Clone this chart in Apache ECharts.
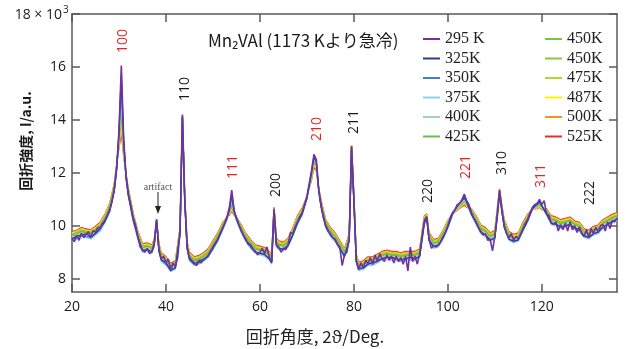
<!DOCTYPE html>
<html><head><meta charset="utf-8">
<script src="https://cdn.jsdelivr.net/npm/echarts@6/dist/echarts.min.js"></script>
<style>html,body{margin:0;padding:0;background:#fff}#c{width:625px;height:349px}</style>
</head><body><div id="c"></div><script>
// x grid of the 295 K trace: 20.0 .. 136.0 every 0.5 deg
const fineAngles = [];
for (let i = 0; i < 233; i++) fineAngles.push(20 + i * 0.5);
// x grid of the other traces
const coarseAngles = [
 20,21,22,23,24,25,26,27,28,29,29.5,30,30.5,31,31.5,32,
 33,34,35,36,37,37.5,38,38.5,39,40,41,42,43,43.5,44,44.5,45,
 46,47,48,49,50,51,52,53,53.5,54,54.5,55,56,57,58,59,60,61,62,62.5,63,63.5,64,
 65,66,67,68,69,70,71,71.5,72,72.5,73,74,75,76,77,78,79,79.5,80,80.5,81,
 82,83,84,85,86,87,88,89,90,91,92,93,94,95,95.5,96,97,98,99,100,101,102,103,103.5,104,
 105,106,107,108,109,110,111,111.5,112,113,114,115,116,117,118,119,119.5,120,
 121,122,123,124,125,126,127,128,129,130,131,132,133,134,135,136];

const i295 = [
 9.5,9.4,9.62,9.45,9.72,9.55,9.68,9.78,9.55,9.82,
 9.75,9.95,9.9,10.1,10.2,10.4,10.6,10.9,11.4,12.2,
 13.6,16.05,13.3,11.9,11.2,10.8,10.3,10.05,9.6,9.2,
 9.1,9.0,9.15,8.95,9.05,9.3,10.25,9.1,8.75,8.85,
 8.6,8.75,8.35,8.6,8.45,8.8,9.8,14.2,11.0,9.2,
 8.8,8.7,8.6,8.5,8.65,8.6,8.75,8.8,8.9,9.05,
 9.2,9.35,9.5,9.7,9.9,10.1,10.35,10.7,11.35,10.6,
 10.3,10.05,9.85,9.65,9.5,9.3,9.25,9.1,9.05,8.9,
 9.0,9.15,8.95,9.2,8.8,8.65,10.65,9.3,9.2,9.0,
 9.15,9.1,9.3,9.75,9.7,9.95,10.15,10.35,10.5,10.8,
 11.1,11.6,12.1,12.7,12.5,11.4,10.8,10.3,10.0,9.8,
 9.7,9.55,9.5,9.3,9.2,8.5,8.9,9.0,9.5,13.0,
 11.0,8.7,8.35,8.6,8.4,8.7,8.55,8.8,8.55,8.9,
 8.65,8.95,8.75,8.65,8.9,8.7,8.85,8.6,8.85,8.65,
 8.8,8.55,8.85,8.3,9.2,8.65,8.85,8.55,8.95,9.6,
 10.2,10.35,9.5,9.15,9.25,9.2,9.3,9.4,9.6,9.75,
 10.0,10.3,10.5,10.6,10.8,10.85,11.0,11.2,10.95,10.8,
 10.5,10.3,10.15,9.95,9.8,9.65,9.7,9.45,9.5,9.05,
 9.6,10.3,11.35,10.6,10.0,9.7,9.55,9.7,9.45,9.6,
 9.5,9.7,9.9,10.1,10.25,10.5,10.7,10.8,10.85,11.0,
 10.8,10.95,10.45,10.4,10.1,10.05,10.15,9.8,10.05,9.85,
 10.1,9.8,10.15,9.85,10.0,9.75,9.95,9.7,9.6,9.85,
 9.55,9.9,9.7,9.95,9.75,10.0,10.05,9.8,10.15,9.9,
 10.2,10.15,10.3];

const i325 = [
 9.5,9.62,9.65,9.7,9.57,9.72,9.92,10.15,10.55,11.35,12.15,13.5,15.7,13.2,11.85,11.15,
 10.25,9.62,9.05,9.12,9.0,9.32,10.2,9.05,8.72,8.62,8.3,8.42,9.72,14.1,10.95,9.15,8.75,
 8.55,8.68,8.72,8.85,9.18,9.45,9.87,10.3,10.6,11.2,10.55,10.27,9.82,9.45,9.28,9.0,8.97,8.92,8.75,8.6,10.55,9.27,9.15,
 9.12,9.27,9.65,10.12,10.45,11.05,12.05,12.6,12.45,11.35,10.75,10.02,9.65,9.47,9.15,8.85,9.45,12.9,10.95,8.65,8.38,
 8.42,8.55,8.62,8.65,8.77,8.8,8.82,8.75,8.72,8.75,8.82,8.75,8.85,10.12,10.3,9.45,9.22,9.27,9.55,9.97,10.45,10.75,10.95,11.1,10.9,
 10.45,10.12,9.77,9.65,9.47,9.55,11.25,10.55,9.95,9.5,9.42,9.47,9.85,10.2,10.65,10.8,10.95,10.75,
 10.45,10.12,10.05,9.97,10.0,10.05,9.92,9.85,9.62,9.57,9.7,9.77,9.95,10.05,10.17,10.25];
const i350 = [
 9.48,9.55,9.62,9.6,9.55,9.7,9.85,10.2,10.55,11.3,12.1,13.45,15.35,13.15,11.8,11.15,
 10.22,9.55,9.08,9.08,9.02,9.25,10.2,9.08,8.7,8.55,8.38,8.4,9.7,14.1,10.9,9.18,8.72,
 8.58,8.6,8.7,8.87,9.12,9.47,9.85,10.28,10.6,11.1,10.5,10.25,9.8,9.47,9.2,9.02,8.95,8.9,8.77,8.62,10.5,9.25,9.17,
 9.1,9.25,9.67,10.1,10.47,11.05,12.0,12.6,12.4,11.35,10.72,9.97,9.67,9.45,9.17,8.87,9.45,12.9,10.9,8.68,8.35,
 8.4,8.57,8.55,8.67,8.75,8.82,8.77,8.77,8.7,8.77,8.75,8.77,8.85,10.1,10.3,9.47,9.2,9.25,9.57,9.95,10.45,10.75,10.95,11.05,10.9,
 10.45,10.1,9.75,9.67,9.45,9.55,11.2,10.55,9.97,9.5,9.4,9.47,9.85,10.2,10.65,10.8,10.9,10.75,
 10.45,10.1,10.07,9.95,10.0,10.05,9.9,9.87,9.6,9.55,9.7,9.75,9.95,10.07,10.15,10.25];
const i375 = [
 9.42,9.5,9.6,9.55,9.5,9.65,9.8,10.12,10.5,11.3,12.05,13.35,15.0,13.05,11.75,11.1,
 10.2,9.5,9.0,9.05,8.95,9.2,10.15,9.0,8.65,8.5,8.28,8.35,9.65,14.05,10.9,9.1,8.68,
 8.5,8.55,8.65,8.8,9.1,9.4,9.8,10.22,10.55,11.0,10.45,10.2,9.75,9.4,9.15,8.97,8.9,8.85,8.7,8.55,10.5,9.2,9.1,
 9.05,9.2,9.6,10.05,10.4,11.0,11.95,12.55,12.35,11.3,10.7,9.92,9.6,9.4,9.1,8.8,9.4,12.85,10.85,8.6,8.3,
 8.35,8.5,8.5,8.6,8.7,8.75,8.7,8.7,8.65,8.7,8.7,8.7,8.8,10.05,10.25,9.4,9.15,9.2,9.5,9.9,10.4,10.7,10.9,11.0,10.85,
 10.4,10.05,9.7,9.6,9.4,9.5,11.15,10.5,9.9,9.45,9.35,9.42,9.8,10.15,10.6,10.75,10.9,10.7,
 10.4,10.05,10.0,9.9,9.95,10.0,9.85,9.8,9.55,9.5,9.65,9.7,9.9,10.0,10.1,10.2];
const i400 = [
 9.58,9.65,9.72,9.68,9.65,9.78,9.92,10.22,10.62,11.42,12.2,13.35,14.85,13.05,11.88,11.22,
 10.32,9.63,9.13,9.18,9.08,9.32,10.2,9.13,8.78,8.63,8.38,8.48,9.75,14.15,10.98,9.22,8.82,
 8.63,8.68,8.78,8.93,9.22,9.52,9.92,10.3,10.6,10.95,10.52,10.3,9.88,9.52,9.27,9.07,9.02,8.97,8.82,8.68,10.6,9.32,9.22,
 9.17,9.32,9.72,10.17,10.5,11.1,12.0,12.55,12.4,11.4,10.8,10.02,9.72,9.52,9.22,8.92,9.5,12.95,10.98,8.72,8.43,
 8.48,8.62,8.63,8.72,8.82,8.87,8.82,8.82,8.77,8.82,8.82,8.82,8.92,10.18,10.32,9.52,9.27,9.32,9.62,10.0,10.45,10.72,10.9,11.05,10.9,
 10.5,10.17,9.82,9.72,9.52,9.62,11.25,10.58,10.02,9.57,9.47,9.52,9.92,10.25,10.65,10.8,10.9,10.78,
 10.5,10.17,10.12,10.02,10.07,10.12,9.97,9.92,9.67,9.62,9.77,9.82,10.02,10.12,10.22,10.32];
const i425 = [
 9.62,9.68,9.78,9.72,9.7,9.82,9.98,10.28,10.68,11.45,12.2,13.3,14.6,12.95,11.9,11.25,
 10.35,9.65,9.18,9.2,9.12,9.35,10.15,9.18,8.82,8.67,8.43,8.52,9.8,14.15,11.0,9.25,8.85,
 8.67,8.72,8.82,8.97,9.27,9.57,9.95,10.32,10.55,10.85,10.5,10.32,9.9,9.55,9.32,9.12,9.07,9.02,8.87,8.72,10.62,9.37,9.27,
 9.22,9.37,9.77,10.22,10.52,11.1,11.95,12.5,12.35,11.4,10.82,10.07,9.77,9.57,9.27,8.97,9.55,13.0,11.0,8.77,8.47,
 8.52,8.67,8.67,8.77,8.87,8.92,8.87,8.87,8.82,8.87,8.87,8.87,8.97,10.22,10.35,9.57,9.32,9.37,9.67,10.05,10.45,10.7,10.85,11.0,10.85,
 10.55,10.22,9.87,9.77,9.57,9.67,11.3,10.62,10.07,9.62,9.52,9.57,9.97,10.3,10.65,10.78,10.85,10.75,
 10.55,10.22,10.17,10.07,10.12,10.17,10.02,9.97,9.72,9.67,9.82,9.87,10.07,10.17,10.27,10.35];
const i450a = [
 9.65,9.7,9.8,9.75,9.72,9.85,10.0,10.3,10.7,11.48,12.22,13.25,14.5,12.9,11.9,11.28,
 10.38,9.68,9.2,9.22,9.15,9.38,10.18,9.2,8.85,8.7,8.45,8.55,9.82,14.15,11.02,9.28,8.88,
 8.7,8.75,8.85,9.0,9.3,9.6,9.97,10.33,10.52,10.8,10.5,10.33,9.92,9.58,9.35,9.15,9.1,9.05,8.9,8.75,10.63,9.4,9.3,
 9.25,9.4,9.8,10.25,10.55,11.1,11.9,12.45,12.32,11.42,10.85,10.1,9.8,9.6,9.3,9.0,9.57,13.0,11.02,8.8,8.5,
 8.55,8.7,8.7,8.8,8.9,8.95,8.9,8.9,8.85,8.9,8.9,8.9,9.0,10.25,10.37,9.6,9.35,9.4,9.7,10.07,10.45,10.68,10.83,10.97,10.82,
 10.57,10.25,9.9,9.8,9.6,9.7,11.32,10.63,10.1,9.65,9.55,9.6,10.0,10.32,10.63,10.75,10.82,10.72,
 10.57,10.25,10.2,10.1,10.15,10.2,10.05,10.0,9.75,9.7,9.85,9.9,10.1,10.2,10.3,10.37];
const i450b = [
 9.68,9.73,9.83,9.78,9.75,9.87,10.03,10.32,10.72,11.5,12.23,13.2,14.4,12.85,11.9,11.3,
 10.4,9.7,9.22,9.25,9.17,9.4,10.15,9.22,8.87,8.72,8.47,8.57,9.83,14.15,11.03,9.3,8.9,
 8.72,8.77,8.87,9.02,9.32,9.62,10.0,10.33,10.5,10.75,10.48,10.33,9.95,9.6,9.37,9.17,9.12,9.07,8.92,8.77,10.63,9.42,9.32,
 9.27,9.42,9.82,10.27,10.57,11.1,11.88,12.4,12.3,11.42,10.87,10.12,9.82,9.62,9.32,9.02,9.6,13.0,11.05,8.82,8.52,
 8.57,8.72,8.72,8.82,8.92,8.97,8.92,8.92,8.87,8.92,8.92,8.92,9.02,10.27,10.37,9.62,9.37,9.42,9.72,10.1,10.45,10.67,10.82,10.93,10.8,
 10.58,10.27,9.92,9.82,9.62,9.72,11.33,10.65,10.12,9.67,9.57,9.62,10.02,10.33,10.62,10.73,10.8,10.7,
 10.58,10.27,10.22,10.12,10.17,10.22,10.07,10.02,9.77,9.72,9.87,9.92,10.12,10.22,10.32,10.4];
const i475 = [
 9.7,9.75,9.85,9.8,9.78,9.9,10.05,10.35,10.75,11.52,12.25,13.1,14.1,12.8,11.92,11.32,
 10.42,9.72,9.25,9.27,9.2,9.42,10.15,9.25,8.9,8.75,8.5,8.6,9.85,14.12,11.05,9.32,8.92,
 8.75,8.8,8.9,9.05,9.35,9.65,10.02,10.33,10.47,10.7,10.45,10.33,9.97,9.62,9.4,9.2,9.15,9.1,8.95,8.8,10.65,9.45,9.35,
 9.3,9.45,9.85,10.3,10.6,11.1,11.85,12.35,12.25,11.42,10.9,10.15,9.85,9.65,9.35,9.05,9.62,13.02,11.07,8.85,8.55,
 8.6,8.75,8.75,8.85,8.95,9.0,8.95,8.95,8.9,8.95,8.95,8.95,9.05,10.3,10.4,9.65,9.4,9.45,9.75,10.12,10.45,10.65,10.8,10.9,10.78,
 10.6,10.3,9.95,9.85,9.65,9.75,11.35,10.67,10.15,9.7,9.6,9.65,10.05,10.35,10.62,10.7,10.78,10.68,
 10.6,10.3,10.25,10.15,10.2,10.25,10.1,10.05,9.8,9.75,9.9,9.95,10.15,10.25,10.35,10.42];
const i487 = [
 9.72,9.78,9.88,9.83,9.8,9.93,10.08,10.38,10.78,11.55,12.27,13.05,13.9,12.75,11.92,11.35,
 10.45,9.75,9.28,9.3,9.22,9.45,10.17,9.27,8.92,8.77,8.52,8.62,9.88,14.15,11.07,9.35,8.95,
 8.77,8.82,8.92,9.07,9.37,9.67,10.05,10.33,10.45,10.65,10.43,10.33,10.0,9.65,9.42,9.22,9.17,9.12,8.97,8.82,10.67,9.47,9.37,
 9.32,9.47,9.87,10.32,10.62,11.1,11.82,12.3,12.2,11.42,10.92,10.17,9.87,9.67,9.37,9.07,9.65,13.05,11.1,8.87,8.57,
 8.62,8.77,8.77,8.87,8.97,9.02,8.97,8.97,8.92,8.97,8.97,8.97,9.07,10.32,10.42,9.67,9.42,9.47,9.77,10.15,10.45,10.63,10.77,10.87,10.75,
 10.62,10.32,9.97,9.87,9.67,9.77,11.37,10.7,10.17,9.72,9.62,9.67,10.07,10.37,10.62,10.68,10.75,10.65,
 10.62,10.32,10.27,10.17,10.22,10.27,10.12,10.07,9.82,9.77,9.92,9.97,10.17,10.27,10.37,10.45];
const i500 = [
 9.75,9.8,9.9,9.85,9.82,9.95,10.1,10.4,10.8,11.57,12.28,13.0,13.7,12.7,11.93,11.37,
 10.47,9.77,9.3,9.32,9.25,9.47,10.18,9.3,8.95,8.8,8.55,8.65,9.9,14.12,11.08,9.37,8.97,
 8.8,8.85,8.95,9.1,9.4,9.7,10.07,10.33,10.43,10.6,10.42,10.33,10.02,9.67,9.45,9.25,9.2,9.15,9.0,8.85,10.68,9.5,9.4,
 9.35,9.5,9.9,10.35,10.65,11.1,11.8,12.25,12.15,11.42,10.95,10.2,9.9,9.7,9.4,9.1,9.67,13.05,11.12,8.9,8.6,
 8.65,8.8,8.8,8.9,9.0,9.05,9.0,9.0,8.95,9.0,9.0,9.0,9.1,10.35,10.43,9.7,9.45,9.5,9.8,10.17,10.45,10.62,10.75,10.82,10.72,
 10.63,10.35,10.0,9.9,9.7,9.8,11.38,10.72,10.2,9.75,9.65,9.7,10.1,10.4,10.62,10.67,10.72,10.62,
 10.63,10.35,10.3,10.2,10.25,10.3,10.15,10.1,9.85,9.8,9.95,10.0,10.2,10.3,10.4,10.47];
const i525 = [
 9.78,9.83,9.93,9.88,9.85,9.98,10.13,10.43,10.83,11.6,12.3,12.95,13.5,12.65,11.95,11.4,
 10.5,9.8,9.33,9.35,9.28,9.5,10.2,9.33,8.98,8.83,8.58,8.68,9.92,14.1,11.1,9.4,9.0,
 8.83,8.88,8.98,9.13,9.43,9.73,10.1,10.33,10.4,10.55,10.4,10.33,10.05,9.7,9.48,9.28,9.23,9.18,9.03,8.88,10.7,9.53,9.43,
 9.38,9.53,9.93,10.38,10.68,11.1,11.75,12.2,12.1,11.42,10.97,10.23,9.93,9.73,9.43,9.13,9.7,13.05,11.15,8.93,8.63,
 8.68,8.83,8.83,8.93,9.03,9.08,9.03,9.03,8.98,9.03,9.03,9.03,9.13,10.38,10.45,9.73,9.48,9.53,9.83,10.2,10.45,10.6,10.72,10.78,10.7,
 10.65,10.38,10.03,9.93,9.73,9.83,11.4,10.75,10.23,9.78,9.68,9.73,10.13,10.43,10.62,10.65,10.7,10.6,
 10.65,10.38,10.33,10.23,10.28,10.33,10.18,10.13,9.88,9.83,9.98,10.03,10.23,10.33,10.43,10.5];

const seriesNames = ['295 K','325K','350K','375K','400K','425K','450K','450K\u200b','475K','487K','500K','525K'];
const seriesValues = [i295,i325,i350,i375,i400,i425,i450a,i450b,i475,i487,i500,i525];
const seriesColors = ['#7132a0','#2d3a92','#3e7fd2','#8fd2ef','#a3d6a8','#70bd45','#7cc142','#8ec63f','#b7d334','#fff200','#f7941d','#ee2a24'];
const xTicks = [20,40,60,80,100,120];
const yTicks = [8,10,12,14,16,18];
const yTickLabels = [8,10,12,14,16];
const peakNames = ['100','110','111','200','210','211','220','221','310','311','222'];
const peakIsSuperlattice = [true,false,true,false,true,false,false,true,false,true,false];

const peakPos = [[123,41],[185,89],[233,167],[276,185],[317,129],[354,122],[428,191],[466,167],[502,163],[541,176],[590,193]];

const chart = echarts.init(document.getElementById('c'), null, {renderer:'canvas'});
const axisCol = '#5a5a5a';
const lblFont = '"Open Sans", "Noto Sans", sans-serif';
const cjkFont = '"Noto Sans CJK JP", "Open Sans", sans-serif';

const series = seriesNames.map((n, k) => {
  const xs = k === 0 ? fineAngles : coarseAngles;
  return {
    name: n, type: 'line', showSymbol: false, symbol: 'none', silent: true,
    color: seriesColors[k],
    lineStyle: {width: k === 0 ? 1.6 : 1.3, color: seriesColors[k]},
    data: xs.map((a, j) => [a, seriesValues[k][j]])
  };
}).reverse();

const graphics = [];
peakNames.forEach((t, k) => {
  graphics.push({type:'text', x: peakPos[k][0], y: peakPos[k][1], rotation: Math.PI/2,
    style:{text: t, fill: peakIsSuperlattice[k] ? '#e3261e' : '#1a1a1a', font: '14px ' + lblFont, align:'center', verticalAlign:'middle'}});
});
graphics.push({type:'text', x:62, y:15, style:{text:'18 × 10', fill:'#222', font:'14px ' + lblFont, align:'right', verticalAlign:'middle'}});
graphics.push({type:'text', x:63, y:10, style:{text:'3', fill:'#222', font:'10px ' + lblFont, align:'left', verticalAlign:'middle'}});
graphics.push({type:'text', x:208, y:41, style:{text:'Mn₂VAl (1173 Kより急冷)', fill:'#1a1a1a', font:'17px ' + cjkFont, align:'left', verticalAlign:'middle'}});
graphics.push({type:'text', x:26, y:141, rotation: Math.PI/2, style:{text:'回折強度, I/a.u.', fill:'#1a1a1a', font:'bold 14px ' + cjkFont, align:'center', verticalAlign:'middle'}});
graphics.push({type:'text', x:315, y:337, style:{text:'回折角度, 2ϑ/Deg.', fill:'#222', font:'17px ' + cjkFont, align:'center', verticalAlign:'middle'}});
graphics.push({type:'text', x:158, y:187, style:{text:'artifact', fill:'#555', font:'10px "Liberation Serif", serif', align:'center', verticalAlign:'middle'}});
graphics.push({type:'line', shape:{x1:158, y1:192, x2:158, y2:207}, style:{stroke:'#222', lineWidth:1}});
graphics.push({type:'polygon', shape:{points:[[155,206],[161,206],[158,214]]}, style:{fill:'#222'}});

const legendBase = {
  orient:'vertical', icon:'rect', itemWidth:17, itemHeight:2, itemGap:3.5, itemTextGap:5,
  textStyle:{fontFamily:'"Liberation Serif", serif', fontSize:16, lineHeight:16, color:'#222'},
  formatter: n => n.replace('\u200b',''), selectedMode:false, top:26
};

chart.setOption({
  animation:false,
  backgroundColor:'#fff',
  grid:{left:72, right:8, top:14, bottom:57},
  legend:[
    Object.assign({}, legendBase, {left:418, data: seriesNames.slice(0,6)}),
    Object.assign({}, legendBase, {left:540, data: seriesNames.slice(6)})
  ],
  xAxis:[
    {type:'value', min:20, max:136, position:'bottom',
     axisLine:{lineStyle:{color:axisCol, width:1.5}},
     axisTick:{inside:true, length:8, customValues:xTicks, lineStyle:{color:axisCol, width:1.5}},
     axisLabel:{customValues:xTicks, color:'#1a1a1a', fontSize:14, fontFamily:lblFont, margin:8},
     splitLine:{show:false}},
    {type:'value', min:20, max:136, position:'top',
     axisLine:{lineStyle:{color:axisCol, width:1.5}},
     axisTick:{inside:true, length:8, customValues:xTicks, lineStyle:{color:axisCol, width:1.5}},
     axisLabel:{show:false}, splitLine:{show:false}}
  ],
  yAxis:[
    {type:'value', min:7.5, max:18, position:'left',
     axisLine:{show:true, lineStyle:{color:axisCol, width:1.5}},
     axisTick:{show:true, inside:true, length:8, customValues:yTicks, lineStyle:{color:axisCol, width:1.5}},
     axisLabel:{customValues:yTickLabels, color:'#1a1a1a', fontSize:14, fontFamily:lblFont, margin:6},
     splitLine:{show:false}},
    {type:'value', min:7.5, max:18, position:'right',
     axisLine:{show:true, lineStyle:{color:axisCol, width:1.5}},
     axisTick:{show:true, inside:true, length:8, customValues:yTicks, lineStyle:{color:axisCol, width:1.5}},
     axisLabel:{show:false}, splitLine:{show:false}}
  ],
  series: series,
  graphic: graphics
});
</script></body></html>
